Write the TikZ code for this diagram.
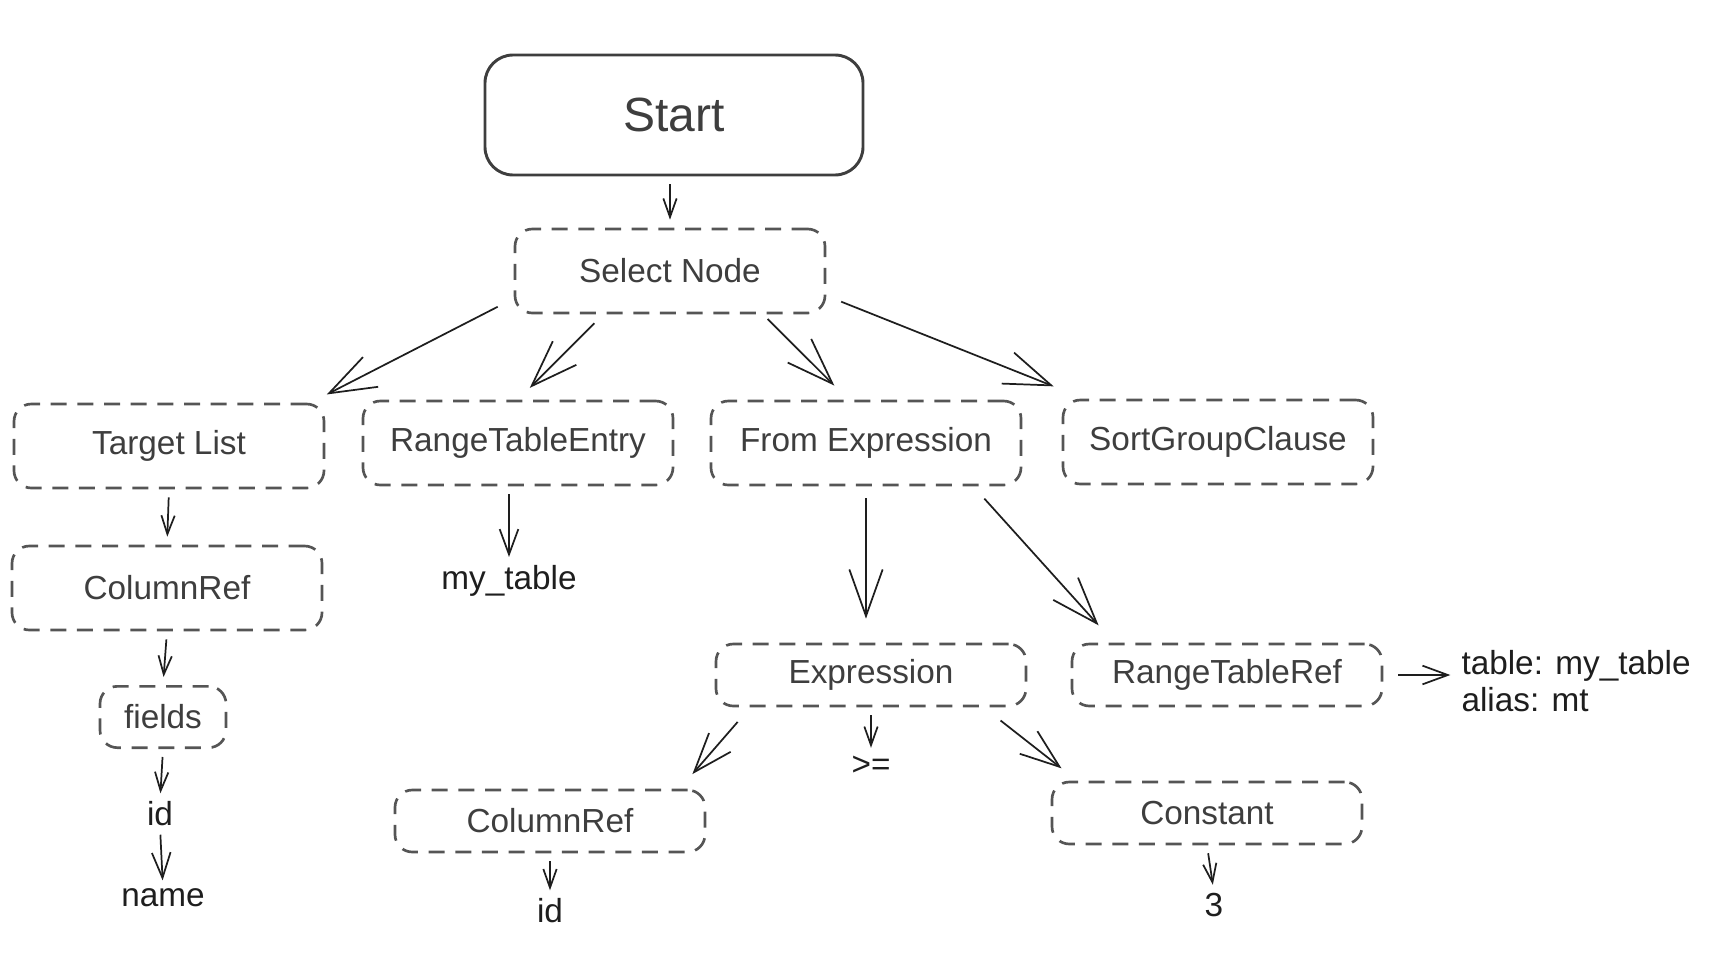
\documentclass[tikz,border=0pt]{standalone}
\usepackage{fontspec}
\setmainfont{Liberation Sans}
\usetikzlibrary{arrows.meta}

\definecolor{boxgray}{RGB}{85,85,85}
\definecolor{labgray}{RGB}{62,62,62}
\definecolor{inkblack}{RGB}{30,30,30}

\tikzset{every picture/.style={line width=0.75pt}}
\tikzset{
  startbox/.style={draw=labgray, line width=2.2pt, rounded corners=21pt, minimum width=283.5pt, minimum height=90pt, text=labgray, font=\fontsize{36}{40}\selectfont},
  treebox/.style={draw=boxgray, line width=2pt, dash pattern=on 12pt off 8pt, rounded corners=13pt, minimum width=232.5pt, minimum height=63pt, text=labgray, font=\fontsize{25}{30}\selectfont},
  flatbox/.style={treebox, minimum height=46.5pt},
  leaf/.style={text=inkblack, inner sep=0pt, font=\fontsize{25}{28}\selectfont},
  arrs/.style={draw=inkblack, line width=1.3pt, shorten <=6pt, shorten >=6pt, -{Straight Barb[length=14pt,width=10pt]}},
  arrm/.style={arrs, -{Straight Barb[length=19pt,width=14pt]}},
  arrl/.style={arrs, -{Straight Barb[length=29.5pt,width=21.5pt]}},
  arrxl/.style={arrs, -{Straight Barb[length=35pt,width=25pt]}}
}

\begin{document}
\begin{tikzpicture}[x=0.75pt,y=0.75pt,yscale=-1,xscale=1]
\useasboundingbox (0,0) rectangle (1736,954);

% Start
\node[startbox] (start) at (674,115) {Start};
% Select Node
\node[treebox] (sel) at (670,271) {Select Node};

% Second row
\node[treebox] (tl) at (169,446) {Target List};
\node[treebox] (rte) at (518,443) {RangeTableEntry};
\node[treebox] (fromx) at (866,443) {From Expression};
\node[treebox] (sgc) at (1218,442) {SortGroupClause};

% Target list branch
\node[treebox] (cref1) at (167,588) {ColumnRef};
\node[flatbox, minimum width=94.5pt, minimum height=46pt] (fields) at (163,717) {fields};
\node[leaf] (id1) at (160,814) {id};
\node[leaf] (name) at (163,898) {name};

% Range table entry branch
\node[leaf] (mytab) at (509,581) {my\_table};

% From expression branch
\node[flatbox] (expr) at (871,675) {Expression};
\node[flatbox] (rtref) at (1227,675) {RangeTableRef};
\node[leaf, anchor=west, align=left] (tbl) at (1461,681) {table: my\_table\\alias: mt};
\node[flatbox] (cref2) at (550,821) {ColumnRef};
\node[leaf] (ge) at (871,766) {>=};
\node[flatbox] (cnst) at (1207,813) {Constant};
\node[leaf] (id2) at (550,911) {id};
\node[leaf] (three) at (1214,905) {3};

%Straight Lines
\draw[arrs] (start.south -| sel.north) -- (sel.north);
\draw[arrxl, shorten <=13.5pt, shorten >=13.5pt] (sel.190) -- (tl.17);
\draw[arrxl, shorten <=9.5pt, shorten >=12.5pt] (sel.213) -- (rte.north);
\draw[arrxl, shorten <=5pt, shorten >=15pt] (sel.-25) -- (fromx.112);
\draw[arrxl, shorten <=12pt, shorten >=25pt] (sel.-9.5) -- (sgc.162);

\draw[arrs] (tl.south) -- (cref1.north);
\draw[arrs] (cref1.south) -- (fields.north);
\draw[arrs] (fields.south) -- (id1.north);
\draw[arrm] (id1.south) -- (name.north);
\draw[arrm] (rte.south -| mytab.north) -- (mytab.north);

\draw[arrxl, shorten <=9pt, shorten >=18pt] (fromx.south) -- (fromx.south |- expr.north);
\draw[arrxl, shorten <=12.4pt, shorten >=17.5pt] (fromx.-22.6) -- (rtref.164.5);
\draw[arrm, shorten <=11pt, shorten >=8pt] (rtref.east) -- (rtref.east -| tbl.west);
\draw[arrl, shorten <=14.5pt, shorten >=14.5pt] (expr.195.7) -- (cref2.14.6);
\draw[arrs] (expr.south) -- (ge.north);
\draw[arrl, shorten <=16pt, shorten >=15pt] (expr.-16.4) -- (cnst.166.7);
\draw[arrs] (cref2.south) -- (id2.north);
\draw[arrs] (cnst.south) -- (three.north);

\end{tikzpicture}
\end{document}
